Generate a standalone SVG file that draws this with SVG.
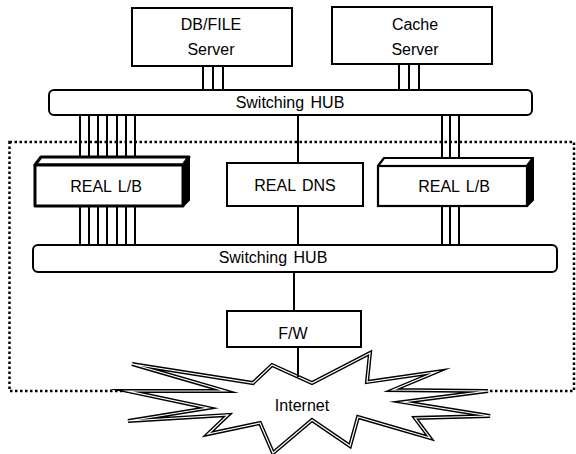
<svg xmlns="http://www.w3.org/2000/svg" width="576" height="454" viewBox="0 0 576 454">
<style>
.box{fill:#fff;stroke:#000;stroke-width:2}
.lb{fill:#fff;stroke:#000;stroke-width:3;stroke-linejoin:round}
.hub{fill:#fff;stroke:#000;stroke-width:2}
.ln{stroke:#000;stroke-width:2;fill:none}
.t{font-family:"Liberation Sans",Arial,sans-serif;font-size:16px;fill:#000;text-anchor:middle;word-spacing:2px}
</style>
<rect width="576" height="454" fill="#fff"/>
<g id="boundary">
<rect x="9.5" y="142" width="564.5" height="249" fill="none" stroke="#000" stroke-width="2.5" stroke-dasharray="2.5 2.5"/>
</g>
<g id="connectors">
<line class="ln" x1="203" y1="66" x2="203" y2="90"/>
<line class="ln" x1="213" y1="66" x2="213" y2="90"/>
<line class="ln" x1="223" y1="66" x2="223" y2="90"/>
<line class="ln" x1="399" y1="64" x2="399" y2="90"/>
<line class="ln" x1="409" y1="64" x2="409" y2="90"/>
<line class="ln" x1="419" y1="64" x2="419" y2="90"/>
<path class="ln" d="M80 115V157M89 115V157M98 115V157M107 115V157M117 115V157M126 115V157M135 115V157"/>
<path class="ln" d="M80 206V245M89 206V245M98 206V245M107 206V245M117 206V245M126 206V245M135 206V245"/>
<line class="ln" x1="298" y1="115" x2="298" y2="163"/>
<line class="ln" x1="298" y1="206" x2="298" y2="245"/>
<path class="ln" d="M442 115V158M450 115V158M459 115V158"/>
<path class="ln" d="M442 206V245M450 206V245M459 206V245"/>
<line class="ln" x1="294" y1="272" x2="294" y2="311"/>
</g>
<g id="db-server">
<rect class="box" x="132" y="8" width="160" height="58"/>
<text class="t" x="211" y="30">DB/FILE</text>
<text class="t" x="211" y="55">Server</text>
</g>
<g id="cache-server">
<rect class="box" x="332" y="7" width="160" height="57"/>
<text class="t" x="415" y="30">Cache</text>
<text class="t" x="415" y="55">Server</text>
</g>
<g id="hub-top">
<rect class="hub" x="49" y="90" width="483" height="25" rx="5"/>
<text class="t" x="290" y="108">Switching HUB</text>
</g>
<g id="lb-left">
<polygon class="lb" points="35,165 41,157 189,157 183,165"/>
<polygon points="183,165 189,157 189,200 183,206" fill="#000" stroke="#000" stroke-width="2" stroke-linejoin="round"/>
<rect class="lb" x="35" y="165" width="148" height="41"/>
<text class="t" x="106" y="192">REAL L/B</text>
</g>
<g id="dns">
<rect class="box" x="227" y="163" width="136" height="43"/>
<text class="t" x="295" y="191">REAL DNS</text>
</g>
<g id="lb-right">
<polygon points="378,166 384,158 533,158 527,166" fill="#fff" stroke="#000" stroke-width="2.2" stroke-linejoin="round"/>
<polygon points="527,166 533,158 533,200 527,206" fill="#000" stroke="#000" stroke-width="2" stroke-linejoin="round"/>
<rect x="378" y="166" width="149" height="40" fill="#fff" stroke="#000" stroke-width="2.2"/>
<text class="t" x="454" y="192">REAL L/B</text>
</g>
<g id="hub-bottom">
<rect class="hub" x="33" y="245" width="524" height="27" rx="5"/>
<text class="t" x="273" y="263">Switching HUB</text>
</g>
<g id="fw">
<rect class="box" x="227" y="311" width="134" height="36"/>
<text class="t" x="293" y="339">F/W</text>
</g>
<g id="internet">
<path d="M132,364 L253,383 L272,365 L312,383 L370,353 L367,382 L436,372 L393,390 L488,391 L403,402 L490,416 L415,418 L430,438 L358,417 L350,446 L312,420 L273,453 L260,423 L208,434 L228,415 L128,421 L208,408 L128,391 L225,391 Z" fill="#fff" stroke="#000" stroke-width="4" stroke-linejoin="miter" stroke-miterlimit="10"/>
<path d="M132,364 L253,383 L272,365 L312,383 L370,353 L367,382 L436,372 L393,390 L488,391 L403,402 L490,416 L415,418 L430,438 L358,417 L350,446 L312,420 L273,453 L260,423 L208,434 L228,415 L128,421 L208,408 L128,391 L225,391 Z" fill="none" stroke="#fff" stroke-width="1.2" stroke-linejoin="miter" stroke-miterlimit="10"/>
<line class="ln" x1="298" y1="347" x2="298" y2="377"/>
<text class="t" x="302" y="411">Internet</text>
</g>
</svg>
